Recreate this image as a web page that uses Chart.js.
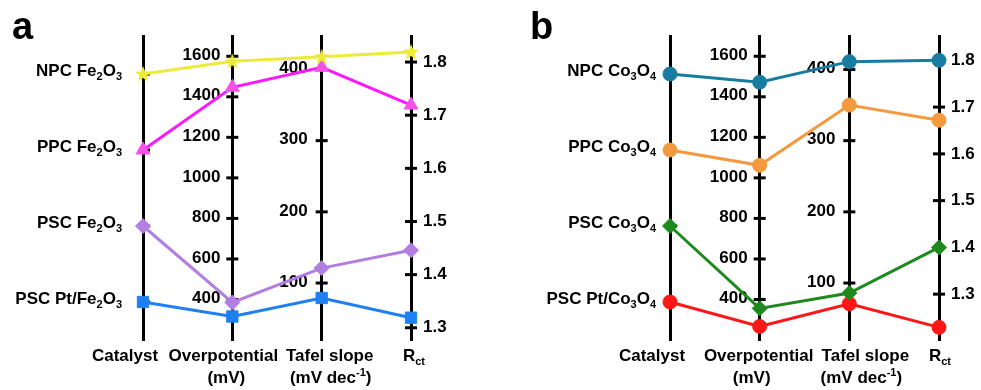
<!DOCTYPE html>
<html>
<head>
<meta charset="utf-8">
<script src="https://cdn.jsdelivr.net/npm/chart.js@4.4.1/dist/chart.umd.min.js"></script>
<style>
  body { margin: 0; background: #fff; }
  #wrap { position: relative; width: 981px; height: 390px; overflow: hidden; }
  canvas { position: absolute; top: 0; }
  .tag { position: absolute; top: 7px; font: bold 38px/38px 'Liberation Sans', Arial, sans-serif; color: #000; }
</style>
</head>
<body>
<div id="wrap">
  <canvas id="fe" width="490" height="390" style="left:0"></canvas>
  <canvas id="co" width="491" height="390" style="left:490px"></canvas>
  <div class="tag" style="left:12px">a</div>
  <div class="tag" style="left:530px">b</div>
</div>
<script>
// axis titles, "|" splits lines, _ and ^ mark sub/superscripts
const axisTitles = ['Catalyst', 'Overpotential|(mV)', 'Tafel slope|(mV dec^{-1})', 'R_{ct}'];

// Fe2O3 family, listed top to bottom on the catalyst axis
const feCatalysts = ['NPC Fe_2O_3', 'PPC Fe_2O_3', 'PSC Fe_2O_3', 'PSC Pt/Fe_2O_3'];
const feOverpotential = [1575, 1447, 385, 316];
const feTafel = [418, 403, 121, 79];
const feRct = [1.819, 1.719, 1.446, 1.319];

// Co3O4 family
const coCatalysts = ['NPC Co_3O_4', 'PPC Co_3O_4', 'PSC Co_3O_4', 'PSC Pt/Co_3O_4'];
const coOverpotential = [1472, 1062, 356, 267];
const coTafel = [411, 350, 86, 71];
const coRct = [1.800, 1.672, 1.400, 1.229];

const catTicks = [0, 1, 2, 3];
const overTicks = [400, 600, 800, 1000, 1200, 1400, 1600];
const tafelTicks = [100, 200, 300, 400];
const rctTicks = [1.3, 1.4, 1.5, 1.6, 1.7, 1.8];

const FONT = "bold 17px 'Liberation Sans', Arial, sans-serif";
const SUB_FONT = "bold 11px 'Liberation Sans', Arial, sans-serif";

const starImg = color => {
  const c = document.createElement('canvas');
  c.width = c.height = 18;
  const g = c.getContext('2d');
  g.fillStyle = color;
  g.beginPath();
  for (let i = 0; i < 10; i++) {
    const r = i % 2 ? 3.6 : 8.5;
    const a = -Math.PI / 2 + i * Math.PI / 5;
    g.lineTo(9 + r * Math.cos(a), 9.5 + r * Math.sin(a));
  }
  g.closePath();
  g.fill();
  return c;
};

const parseRich = str => {
  const parts = [];
  let buf = '';
  let i = 0;
  while (i < str.length) {
    const c = str[i];
    if (c === '_' || c === '^') {
      if (buf) { parts.push({ t: buf, k: 0 }); buf = ''; }
      let t;
      if (str[i + 1] === '{') {
        const j = str.indexOf('}', i);
        t = str.slice(i + 2, j);
        i = j + 1;
      } else {
        t = str[i + 1];
        i += 2;
      }
      parts.push({ t, k: c === '_' ? 1 : -1 });
    } else {
      buf += c;
      i++;
    }
  }
  if (buf) parts.push({ t: buf, k: 0 });
  return parts;
};

const drawRich = (ctx, str, x, y, align) => {
  const parts = parseRich(str);
  let w = 0;
  parts.forEach(p => { ctx.font = p.k ? SUB_FONT : FONT; w += ctx.measureText(p.t).width; });
  let cx = align === 'right' ? x - w : align === 'center' ? x - w / 2 : x;
  ctx.textAlign = 'left';
  ctx.textBaseline = 'middle';
  parts.forEach(p => {
    ctx.font = p.k ? SUB_FONT : FONT;
    ctx.fillText(p.t, cx, y + p.k * 5.5);
    cx += ctx.measureText(p.t).width;
  });
};

// tick marks, tick labels and titles for every vertical axis
const parallelAxes = {
  id: 'parallelAxes',
  beforeDatasetsDraw(chart, args, opts) {
    const { ctx, scales, chartArea } = chart;
    ctx.save();
    ctx.fillStyle = '#000';
    ctx.strokeStyle = '#000';
    ctx.lineWidth = 3;
    opts.axes.forEach((ax, i) => {
      const s = scales[ax.id];
      const x = scales.x.getPixelForValue(i);
      s.ticks.forEach(t => {
        const y = s.getPixelForValue(t.value);
        ctx.beginPath();
        ctx.moveTo(x - ax.tickIn, y);
        ctx.lineTo(x + ax.tickOut, y);
        ctx.stroke();
        const label = ax.labels ? ax.labels[t.value] : String(t.value);
        if (ax.side === 'left') drawRich(ctx, label, x - ax.gap, y + ax.dy, 'right');
        else drawRich(ctx, label, x + ax.gap, y + ax.dy, 'left');
      });
      axisTitles[i].split('|').forEach((line, j) => {
        drawRich(ctx, line, x + ax.shift[j], chartArea.bottom + 16 + j * 22, 'center');
      });
    });
    ctx.restore();
  }
};

const buildChart = (id, catalysts, series, ranges, styles, layout) => {
  const n = catalysts.length;
  const tickSets = [catTicks, overTicks, tafelTicks, rctTicks];
  const keys = ['cat', 'over', 'tafel', 'rct'];
  const datasets = catalysts.map((name, i) => {
    const raw = [n - 1 - i, series[0][i], series[1][i], series[2][i]];
    const st = styles[i];
    return {
      label: name,
      data: raw.map((v, k) => ({ x: k, y: (v - ranges[k][0]) / (ranges[k][1] - ranges[k][0]) })),
      borderColor: st.color,
      borderWidth: 3,
      backgroundColor: st.fill || st.color,
      pointBackgroundColor: st.fill || st.color,
      pointBorderColor: st.fill || st.color,
      pointBorderWidth: 1,
      pointStyle: st.point,
      pointRadius: st.r,
      tension: 0,
      clip: false
    };
  });
  const scales = {
    x: { type: 'linear', min: 0, max: 3, display: false },
    y: { type: 'linear', min: 0, max: 1, display: false }
  };
  keys.forEach((k, i) => {
    scales[k] = {
      type: 'linear',
      axis: 'y',
      position: { x: i },
      min: ranges[i][0],
      max: ranges[i][1],
      afterBuildTicks: s => { s.ticks = tickSets[i].map(v => ({ value: v })); },
      ticks: { display: false },
      grid: { display: false },
      border: { display: true, color: '#000', width: 3 }
    };
  });
  const catLabels = catalysts.slice().reverse();
  return new Chart(document.getElementById(id), {
    type: 'line',
    data: { datasets },
    options: {
      responsive: false,
      animation: false,
      devicePixelRatio: 1,
      layout: { padding: layout.padding },
      scales,
      plugins: {
        legend: { display: false },
        tooltip: { enabled: false },
        parallelAxes: {
          axes: [
            { id: 'cat', side: 'left', gap: layout.catGap, dy: -3, tickIn: 0, tickOut: 7, labels: catLabels, shift: [layout.shifts[0]] },
            { id: 'over', side: 'left', gap: 12, dy: -1, tickIn: 6, tickOut: 6, shift: layout.shifts[1] },
            { id: 'tafel', side: 'left', gap: 14, dy: -1, tickIn: 6, tickOut: 6, shift: layout.shifts[2] },
            { id: 'rct', side: 'right', gap: 12, dy: 0, tickIn: 6, tickOut: 6, shift: [layout.shifts[3]] }
          ]
        }
      }
    },
    plugins: [parallelAxes]
  });
};

buildChart('fe', feCatalysts, [feOverpotential, feTafel, feRct],
  [[-0.5, 3.5], [200, 1700], [20, 447], [1.277, 1.849]],
  [
    { color: '#eeea3a', point: starImg('#eeea3a') },
    { color: '#ff18ff', fill: '#f653e6', point: 'triangle', r: 8 },
    { color: '#b37ee2', point: 'rectRot', r: 7.5 },
    { color: '#1f80f2', point: 'rect', r: 8 }
  ],
  { padding: { left: 143, right: 79, top: 36, bottom: 50 }, catGap: 21,
    shifts: [-18, [-9, -6], [8, 9], 3] });

buildChart('co', coCatalysts, [coOverpotential, coTafel, coRct],
  [[-0.5, 3.5], [200, 1700], [20, 447], [1.202, 1.852]],
  [
    { color: '#187ca0', point: 'circle', r: 7 },
    { color: '#f39a3e', point: 'circle', r: 7 },
    { color: '#1d8a1d', point: 'rectRot', r: 7.5 },
    { color: '#ff1616', point: 'circle', r: 7 }
  ],
  { padding: { left: 180, right: 42, top: 36, bottom: 50 }, catGap: 14,
    shifts: [-18, [-1, -8], [16, 12], 1] });
</script>
</body>
</html>
